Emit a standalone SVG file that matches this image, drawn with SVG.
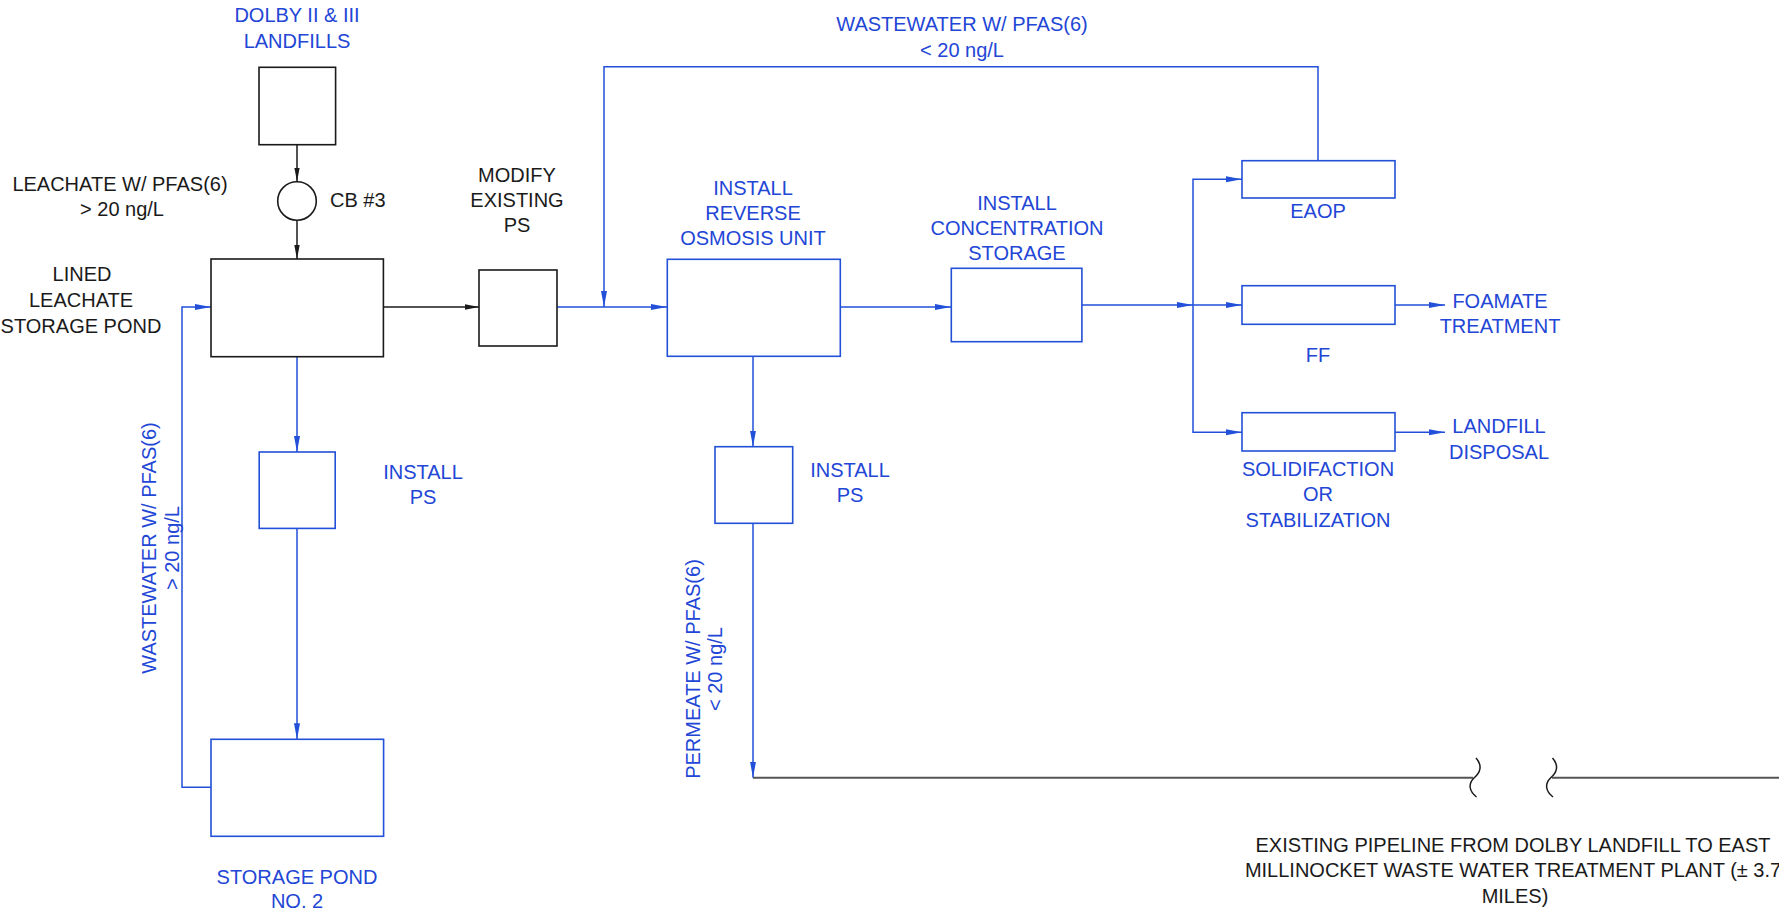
<svg xmlns="http://www.w3.org/2000/svg" width="1779" height="910" viewBox="0 0 1779 910">
<style>
  .t{font-family:"Liberation Sans",Arial,sans-serif;font-size:20px;text-anchor:middle}
  .b{fill:#2246d6}
  .k{fill:#1a1a1a}
  .bx{fill:none;stroke:#2250d8;stroke-width:1.6}
  .kx{fill:none;stroke:#1a1a1a;stroke-width:1.6}
  .bl{fill:none;stroke:#2250d8;stroke-width:1.5}
  .kl{fill:none;stroke:#1a1a1a;stroke-width:1.5}
  .gl{fill:none;stroke:#555;stroke-width:2}
</style>
<defs>
  <marker id="ab" markerWidth="17" markerHeight="8" refX="16" refY="4" orient="auto" markerUnits="userSpaceOnUse"><path d="M0,1 L16,4 L0,7 z" fill="#2250d8"/></marker>
  <marker id="ak" markerWidth="15" markerHeight="8" refX="14" refY="4" orient="auto" markerUnits="userSpaceOnUse"><path d="M0,1.3 L14,4 L0,6.7 z" fill="#1a1a1a"/></marker>
</defs>

<g id="connectors">
  <path class="kl" d="M297,145 V181.5" marker-end="url(#ak)"/>
  <path class="kl" d="M297,220.5 V259" marker-end="url(#ak)"/>
  <path class="kl" d="M383.5,307 H479" marker-end="url(#ak)"/>
  <path class="bl" d="M557,307 H667" marker-end="url(#ab)"/>
  <path class="bl" d="M1318,160.7 V66.7 H604 V307" marker-end="url(#ab)"/>
  <path class="bl" d="M840,307 H951" marker-end="url(#ab)"/>
  <path class="bl" d="M1082,305 H1193" marker-end="url(#ab)"/>
  <path class="bl" d="M1193,305 H1242" marker-end="url(#ab)"/>
  <path class="bl" d="M1193,305 V179.3 H1242" marker-end="url(#ab)"/>
  <path class="bl" d="M1193,305 V432.3 H1242" marker-end="url(#ab)"/>
  <path class="bl" d="M1395,305 H1445" marker-end="url(#ab)"/>
  <path class="bl" d="M1395,432.3 H1445" marker-end="url(#ab)"/>
  <path class="bl" d="M297,356.7 V452" marker-end="url(#ab)"/>
  <path class="bl" d="M297,528.4 V739.3" marker-end="url(#ab)"/>
  <path class="bl" d="M211,787.3 H182 V307 H211" marker-end="url(#ab)"/>
  <path class="bl" d="M753,356.3 V446.7" marker-end="url(#ab)"/>
  <path class="bl" d="M753,523.3 V777.7" marker-end="url(#ab)"/>
  <path class="gl" d="M753,777.7 H1473"/>
  <path class="kl" d="M1476,758 C1483,766 1480,773 1474,778 C1468,784 1469,791 1476.5,797"/>
  <path class="kl" d="M1552.5,758 C1559.5,766 1556.5,773 1550.5,778 C1544.5,784 1545.5,791 1553,797"/>
  <path class="gl" d="M1552,777.7 H1779"/>
</g>

<g id="landfills">
  <rect class="kx" x="259" y="67.3" width="76.6" height="77.4"/>
  <text class="t b" x="297" y="22">DOLBY II &amp; III</text>
  <text class="t b" x="297" y="48">LANDFILLS</text>
</g>

<g id="cb3">
  <circle class="kx" cx="297" cy="201" r="19.3"/>
  <text class="t k" x="330" y="207" style="text-anchor:start">CB #3</text>
</g>

<g id="leachate-label">
  <text class="t k" x="120" y="191">LEACHATE W/ PFAS(6)</text>
  <text class="t k" x="122" y="216">&gt; 20 ng/L</text>
</g>

<g id="lined-pond">
  <rect class="kx" x="211" y="259" width="172.4" height="97.7"/>
  <text class="t k" x="82" y="281">LINED</text>
  <text class="t k" x="81" y="307">LEACHATE</text>
  <text class="t k" x="81" y="333">STORAGE POND</text>
</g>

<g id="modify-ps">
  <rect class="kx" x="479" y="270" width="78" height="76"/>
  <text class="t k" x="517" y="182">MODIFY</text>
  <text class="t k" x="517" y="207">EXISTING</text>
  <text class="t k" x="517" y="232">PS</text>
</g>

<g id="recycle-label">
  <text class="t b" x="962" y="31">WASTEWATER W/ PFAS(6)</text>
  <text class="t b" x="962" y="57">&lt; 20 ng/L</text>
</g>

<g id="ro-unit">
  <rect class="bx" x="667.3" y="259.3" width="173" height="97"/>
  <text class="t b" x="753" y="195">INSTALL</text>
  <text class="t b" x="753" y="220">REVERSE</text>
  <text class="t b" x="753" y="245">OSMOSIS UNIT</text>
</g>

<g id="concentration-storage">
  <rect class="bx" x="951.3" y="268.3" width="130.6" height="73.4"/>
  <text class="t b" x="1017" y="210">INSTALL</text>
  <text class="t b" x="1017" y="235">CONCENTRATION</text>
  <text class="t b" x="1017" y="260">STORAGE</text>
</g>

<g id="eaop">
  <rect class="bx" x="1242" y="160.7" width="153" height="37.3"/>
  <text class="t b" x="1318" y="218">EAOP</text>
</g>

<g id="ff">
  <rect class="bx" x="1242" y="285.7" width="153" height="38.6"/>
  <text class="t b" x="1318" y="362">FF</text>
</g>

<g id="foamate">
  <text class="t b" x="1500" y="308">FOAMATE</text>
  <text class="t b" x="1500" y="333">TREATMENT</text>
</g>

<g id="solidification">
  <rect class="bx" x="1242" y="412.7" width="153" height="38.3"/>
  <text class="t b" x="1318" y="476">SOLIDIFACTION</text>
  <text class="t b" x="1318" y="501">OR</text>
  <text class="t b" x="1318" y="527">STABILIZATION</text>
</g>

<g id="landfill-disposal">
  <text class="t b" x="1499" y="433">LANDFILL</text>
  <text class="t b" x="1499" y="459">DISPOSAL</text>
</g>

<g id="ps-pond">
  <rect class="bx" x="259.2" y="452" width="76" height="76.4"/>
  <text class="t b" x="423" y="479">INSTALL</text>
  <text class="t b" x="423" y="504">PS</text>
</g>

<g id="storage-pond-2">
  <rect class="bx" x="211" y="739.3" width="172.6" height="97"/>
  <text class="t b" x="297" y="884">STORAGE POND</text>
  <text class="t b" x="297" y="908">NO. 2</text>
</g>

<g id="return-label">
  <text class="t b" transform="rotate(-90 155.5 548)" x="155.5" y="548">WASTEWATER W/ PFAS(6)</text>
  <text class="t b" transform="rotate(-90 178.5 548)" x="178.5" y="548">&gt; 20 ng/L</text>
</g>

<g id="ps-permeate">
  <rect class="bx" x="715" y="446.7" width="77.7" height="76.6"/>
  <text class="t b" x="850" y="477">INSTALL</text>
  <text class="t b" x="850" y="502">PS</text>
</g>

<g id="permeate-label">
  <text class="t b" transform="rotate(-90 699.5 669)" x="699.5" y="669">PERMEATE W/ PFAS(6)</text>
  <text class="t b" transform="rotate(-90 721.5 669)" x="721.5" y="669">&lt; 20 ng/L</text>
</g>

<g id="pipeline-label">
  <text class="t k" x="1513" y="852">EXISTING PIPELINE FROM DOLBY LANDFILL TO EAST</text>
  <text class="t k" x="1513" y="877">MILLINOCKET WASTE WATER TREATMENT PLANT (± 3.7</text>
  <text class="t k" x="1515" y="903">MILES)</text>
</g>
</svg>
